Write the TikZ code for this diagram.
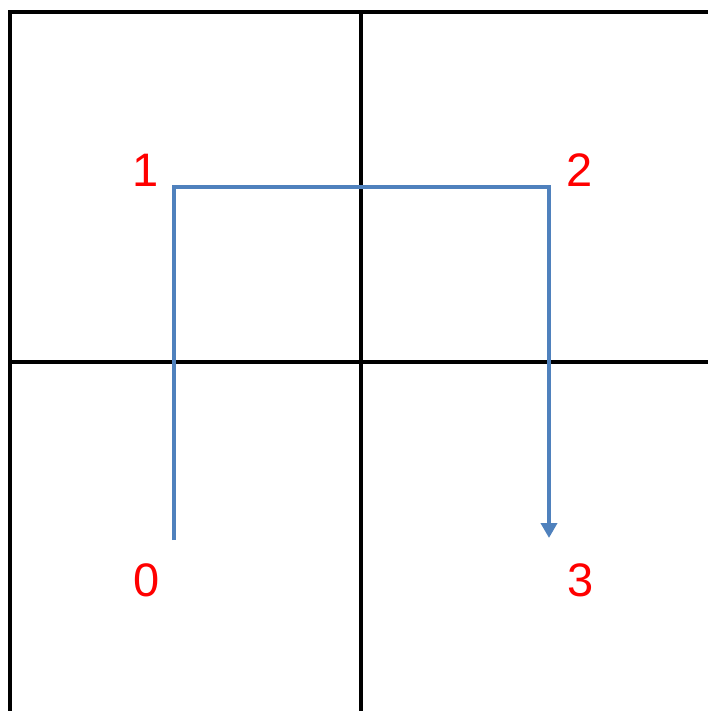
\documentclass[tikz,border=0pt]{standalone}
\usepackage{fontspec}
\setmainfont{Liberation Sans}
\usetikzlibrary{arrows.meta}
\definecolor{pathblue}{HTML}{4F81BD}
\begin{document}
\begin{tikzpicture}[x=1pt,y=-1pt,
  gridline/.style={line width=3.8pt,black},
  route/.style={line width=4pt,pathblue},
  lbl/.style={text=red,font=\fontsize{47}{47}\selectfont,inner sep=0pt}]
\useasboundingbox (0,0) rectangle (708,711);
\clip (0,0) rectangle (708,711);
% grid
\draw[gridline] (10,730) -- (10,12) -- (730,12);
\draw[gridline] (361,12) -- (361,730);
\draw[gridline] (10,362) -- (730,362);
% path corners
\coordinate (p0) at (174,540);
\coordinate (p1) at (174,187);
\coordinate (p2) at (549,187);
\coordinate (p3) at (549,538);
\draw[route,line join=miter,-{Triangle[width=16pt,length=15pt]}] (p0) -- (p1) -- (p2) -- (p3);
% labels
\node[lbl] (l1) at (146,170) {1};
\node[lbl] (l2) at (580,170) {2};
\node[lbl] (l0) at (147,580) {0};
\node[lbl] (l3) at (581,580) {3};
\end{tikzpicture}
\end{document}
